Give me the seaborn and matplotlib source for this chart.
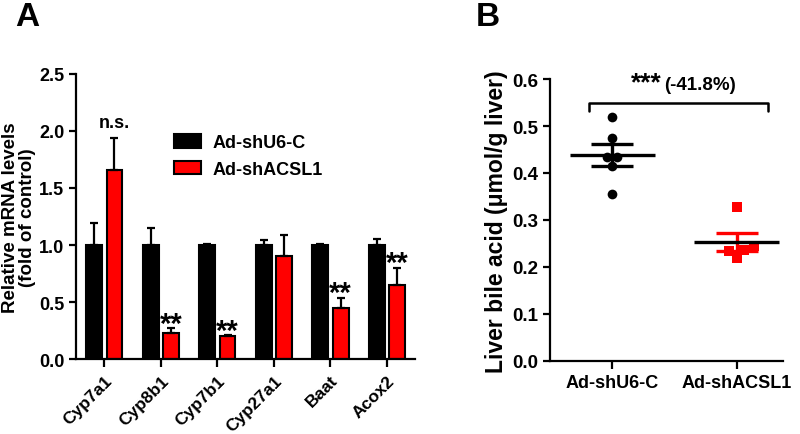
import numpy as np
import pandas as pd
import matplotlib
matplotlib.use('Agg')
import matplotlib.pyplot as plt
import seaborn as sns

# Panel A: relative mRNA levels (mean and SEM)
genes = ['Cyp7a1', 'Cyp8b1', 'Cyp7b1', 'Cyp27a1', 'Baat', 'Acox2']
ctrl_mean = [1.0, 1.0, 1.0, 1.0, 1.0, 1.0]
ctrl_sem = [0.19, 0.15, 0.01, 0.04, 0.01, 0.05]
kd_mean = [1.66, 0.23, 0.20, 0.90, 0.45, 0.65]
kd_sem = [0.28, 0.04, 0.01, 0.19, 0.09, 0.15]
sig_labels = ['n.s.', '**', '**', '', '**', '**']
groups = ['Ad-shU6-C', 'Ad-shACSL1']

# Panel B: liver bile acid, individual animals
ctrl_bile = [0.52, 0.474, 0.433, 0.433, 0.415, 0.355]
kd_bile = [0.328, 0.245, 0.237, 0.235, 0.220]
b_stars = '***'
b_change = '(-41.8%)'

sns.set_style('ticks')
plt.rcParams['font.family'] = ['Liberation Sans', 'DejaVu Sans']
plt.rcParams['font.weight'] = 'bold'
plt.rcParams['axes.labelweight'] = 'bold'
for key in ('text.color', 'axes.labelcolor', 'xtick.color', 'ytick.color', 'axes.edgecolor'):
    plt.rcParams[key] = 'black'
narrow = ['Liberation Sans Narrow', 'Liberation Sans', 'DejaVu Sans']

fig = plt.figure(figsize=(8, 4.35), dpi=100)
ax1 = fig.add_axes([0.095, 0.172, 0.424, 0.656])
ax2 = fig.add_axes([0.6875, 0.168, 0.291, 0.648])

# ---- panel A
df = pd.DataFrame({
    'gene': genes * 2,
    'value': ctrl_mean + kd_mean,
    'group': [groups[0]] * len(genes) + [groups[1]] * len(genes),
})
sns.barplot(data=df, x='gene', y='value', hue='group', order=genes, hue_order=groups,
            palette={groups[0]: 'black', groups[1]: '#ff0000'}, saturation=1,
            edgecolor='black', linewidth=1.5, width=0.72, gap=0.22, errorbar=None, ax=ax1)

for cont, means, sems in zip(ax1.containers, [ctrl_mean, kd_mean], [ctrl_sem, kd_sem]):
    for bar, m, s in zip(cont, means, sems):
        xc = bar.get_x() + bar.get_width() / 2
        ax1.errorbar(xc, m, yerr=[[0], [s]], color='black', capsize=3,
                     elinewidth=1.6, capthick=1.6, zorder=1)

# significance marks over the knockdown bars
for bar, m, s, lab in zip(ax1.containers[1], kd_mean, kd_sem, sig_labels):
    if not lab:
        continue
    xc = bar.get_x() + bar.get_width() / 2
    if lab == 'n.s.':
        ax1.text(xc, m + s + 0.09, lab, ha='center', va='baseline', fontsize=13, fontweight='bold')
    else:
        ax1.text(xc, m + s - 0.03, lab, ha='center', va='baseline', fontsize=21, fontweight='bold')

handles, labels = ax1.get_legend_handles_labels()
ax1.legend(handles, labels, loc='upper left', bbox_to_anchor=(0.24, 0.845), frameon=False,
           fontsize=13, handlelength=1.5, handleheight=0.8, handletextpad=0.65,
           labelspacing=0.5)

ax1.set_xlim(-0.5, 5.5)
ax1.set_ylim(0, 2.5)
ax1.set_yticks(np.arange(0, 2.51, 0.5))
ax1.set_yticklabels([f'{v:.1f}' for v in np.arange(0, 2.51, 0.5)], fontsize=13,
                    family=narrow)
ax1.set_xticks(range(len(genes)))
ax1.set_xticklabels(genes, rotation=45, ha='right', rotation_mode='anchor', fontsize=12.5)
ax1.set_xlabel('')
ax1.set_ylabel('Relative mRNA levels\n(fold of control)', fontsize=13.5, linespacing=1.0)
ax1.yaxis.set_label_coords(-0.118, 0.5)
sns.despine(ax=ax1)

# ---- panel B
bdf = pd.DataFrame({
    'group': [groups[0]] * len(ctrl_bile) + [groups[1]] * len(kd_bile),
    'value': ctrl_bile + kd_bile,
})
sns.swarmplot(data=bdf[bdf['group'] == groups[0]], x='group', y='value', order=groups,
              color='black', marker='o', size=7, ax=ax2, zorder=3)
sns.swarmplot(data=bdf[bdf['group'] == groups[1]], x='group', y='value', order=groups,
              color='#ff0000', marker='s', size=7.5, ax=ax2, zorder=3)

for i, (vals, col) in enumerate(zip([ctrl_bile, kd_bile], ['black', '#ff0000'])):
    v = np.array(vals)
    m = v.mean()
    sem = v.std(ddof=1) / np.sqrt(len(v))
    ax2.errorbar(i, m, yerr=sem, color=col, capsize=15, elinewidth=2.4, capthick=2.4, zorder=4)
    ax2.hlines(m, i - 0.34, i + 0.34, color='black', linewidth=2.4, zorder=5)

# bracket and label
ax2.plot([-0.19, -0.19, 1.25, 1.25], [0.532, 0.549, 0.549, 0.532], color='black', lw=1.8,
         clip_on=False)
ax2.text(0.40, 0.579, b_stars, ha='right', va='baseline', fontsize=19, fontweight='bold')
ax2.text(0.415, 0.579, b_change, ha='left', va='baseline', fontsize=13.5, fontweight='bold',
         family=narrow)

ax2.set_xlim(-0.5, 1.37)
ax2.set_ylim(0, 0.6)
ax2.set_yticks(np.arange(0, 0.61, 0.1))
ax2.set_yticklabels([f'{v:.1f}' for v in np.arange(0, 0.61, 0.1)], fontsize=13.5,
                    family=narrow)
ax2.tick_params(axis='x', labelsize=13)
ax2.set_xlabel('')
ax2.set_ylabel('Liver bile acid (μmol/g liver)', fontsize=16.5)
ax2.yaxis.set_label_coords(-0.18, 0.496)
sns.despine(ax=ax2)

for ax in (ax1, ax2):
    for sp in ('left', 'bottom'):
        ax.spines[sp].set_linewidth(1.6)
    ax.tick_params(width=1.6, length=5)
    ax.tick_params(axis='x', length=6)

fig.text(0.019, 0.94, 'A', fontsize=24, fontweight='bold', va='baseline')
fig.text(0.595, 0.94, 'B', fontsize=24, fontweight='bold', va='baseline')

fig.savefig('out.png', dpi=100)
